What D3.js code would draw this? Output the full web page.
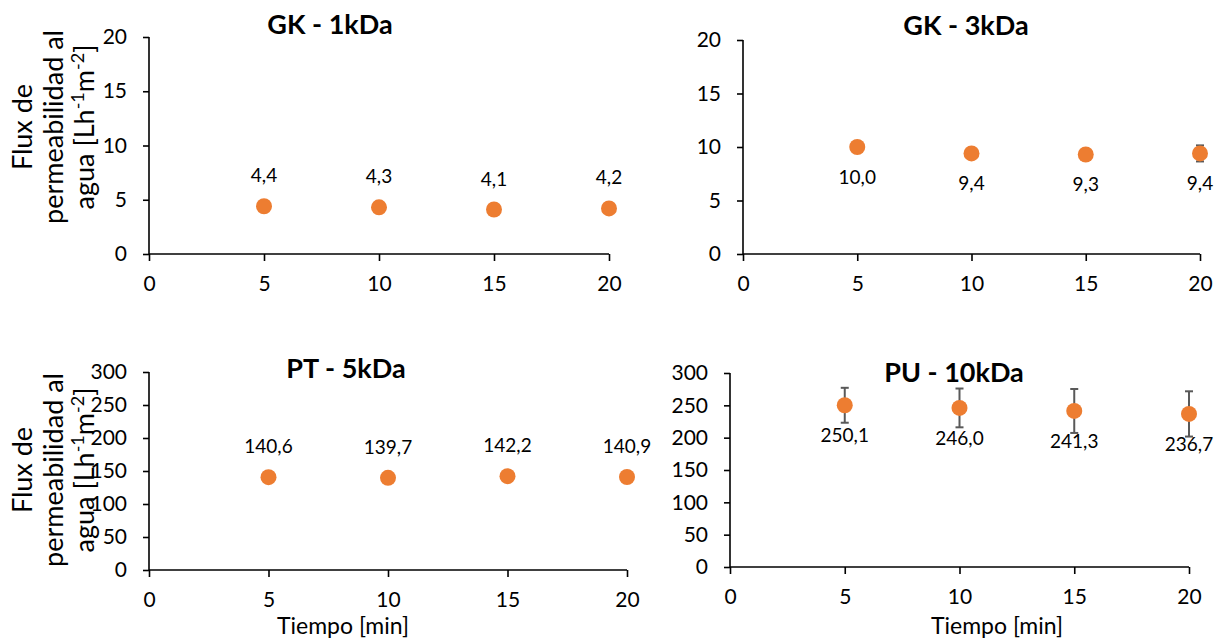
<!DOCTYPE html>
<html lang="es">
<head>
<meta charset="utf-8">
<title>Flux de permeabilidad al agua</title>
<script src="https://cdn.jsdelivr.net/npm/d3@7"></script>
<style>
  body { margin: 0; background: #fff; }
  svg text { font-family: Lato, "Open Sans", sans-serif; fill: #000; }
</style>
</head>
<body>
<script>
// data
var tiempo = [5, 10, 15, 20];
var xTicks = [0, 5, 10, 15, 20];

var gk1 = [4.4, 4.3, 4.1, 4.2];
var gk1Err = [0, 0, 0.4, 0];
var gk3 = [10.0, 9.4, 9.3, 9.4];
var gk3Err = [0, 0, 0, 0.75];
var pt5 = [140.6, 139.7, 142.2, 140.9];
var pt5Err = [0, 0, 0, 0];
var pu10 = [250.1, 246.0, 241.3, 236.7];
var pu10Err = [27, 30, 34, 35];

var yTicksSmall = [0, 5, 10, 15, 20];
var yTicksBig = [0, 50, 100, 150, 200, 250, 300];

var w = 1221, h = 639;
var orange = "#ED7D31";

var svg = d3.select("body").append("svg")
  .attr("width", w)
  .attr("height", h);

var fmt = function(v) { return d3.format(".1f")(v).replace(".", ","); };

// layout of each panel (pixels)
var panels = [
  { title: "GK - 1kDa", vals: gk1, err: gk1Err, yTicks: yTicksSmall, ymax: 20,
    x0: 149, x1: 609, y0: 254, y1: 37, titleX: 330, titleY: 34, above: true,
    yTitle: true, yTitleY: 127, xTitle: false },
  { title: "GK - 3kDa", vals: gk3, err: gk3Err, yTicks: yTicksSmall, ymax: 20,
    x0: 743, x1: 1200, y0: 254, y1: 40, titleX: 966, titleY: 35, above: false,
    yTitle: false, xTitle: false },
  { title: "PT - 5kDa", vals: pt5, err: pt5Err, yTicks: yTicksBig, ymax: 300,
    x0: 149, x1: 627, y0: 570, y1: 372, titleX: 346, titleY: 378, above: true,
    yTitle: true, yTitleY: 470, xTitle: true, xTitleX: 343 },
  { title: "PU - 10kDa", vals: pu10, err: pu10Err, yTicks: yTicksBig, ymax: 300,
    x0: 730, x1: 1189, y0: 567, y1: 373, titleX: 954, titleY: 382, above: false,
    yTitle: false, xTitle: true, xTitleX: 997 }
];

panels.forEach(function(p) {
  var g = svg.append("g");

  var xScale = d3.scaleLinear().domain([0, 20]).range([p.x0, p.x1]);
  var yScale = d3.scaleLinear().domain([0, p.ymax]).range([p.y0, p.y1]);

  //Y axis
  var yAxis = d3.axisLeft(yScale).tickValues(p.yTicks).tickSize(6).tickPadding(16)
    .tickFormat(d3.format("d"));
  var ya = g.append("g")
    .attr("transform", "translate(" + p.x0 + ",0)")
    .call(yAxis);

  //X axis
  var xAxis = d3.axisBottom(xScale).tickValues(xTicks).tickSize(7).tickPadding(15)
    .tickFormat(d3.format("d"));
  var xa = g.append("g")
    .attr("transform", "translate(0," + p.y0 + ")")
    .call(xAxis);

  [ya, xa].forEach(function(a) {
    a.attr("font-family", null);
    a.select(".domain").attr("stroke", "#000").attr("stroke-width", 1.6);
    a.selectAll(".tick line").attr("stroke", "#000").attr("stroke-width", 1.6);
    a.selectAll(".tick text").attr("font-size", "21px").attr("fill", "#000");
  });
  // no outer ticks
  ya.select(".domain").attr("d", "M0," + p.y0 + "V" + p.y1);
  xa.select(".domain").attr("d", "M" + p.x0 + ",0H" + p.x1);

  var pts = tiempo.map(function(t, i) { return { t: t, v: p.vals[i], e: p.err[i] }; });

  //error bars
  var eb = g.selectAll(".err").data(pts.filter(function(d) { return d.e > 0; }))
    .enter().append("g").attr("class", "err")
    .attr("stroke", "#595959").attr("stroke-width", 2);
  eb.append("line")
    .attr("x1", function(d) { return xScale(d.t); })
    .attr("x2", function(d) { return xScale(d.t); })
    .attr("y1", function(d) { return yScale(d.v + d.e); })
    .attr("y2", function(d) { return yScale(d.v - d.e); });
  eb.append("line")
    .attr("x1", function(d) { return xScale(d.t) - 4; })
    .attr("x2", function(d) { return xScale(d.t) + 4; })
    .attr("y1", function(d) { return yScale(d.v + d.e); })
    .attr("y2", function(d) { return yScale(d.v + d.e); });
  eb.append("line")
    .attr("x1", function(d) { return xScale(d.t) - 4; })
    .attr("x2", function(d) { return xScale(d.t) + 4; })
    .attr("y1", function(d) { return yScale(d.v - d.e); })
    .attr("y2", function(d) { return yScale(d.v - d.e); });

  //points
  g.selectAll("circle").data(pts).enter().append("circle")
    .attr("cx", function(d) { return xScale(d.t); })
    .attr("cy", function(d) { return yScale(d.v); })
    .attr("r", 8)
    .attr("fill", orange);

  //data labels
  g.selectAll(".lbl").data(pts).enter().append("text")
    .attr("class", "lbl")
    .attr("x", function(d) { return xScale(d.t); })
    .attr("y", function(d) { return yScale(d.v) + (p.above ? -24 : 37); })
    .attr("text-anchor", "middle")
    .attr("font-size", "19px")
    .text(function(d) { return fmt(d.v); });

  //title
  g.append("text")
    .attr("x", p.titleX).attr("y", p.titleY)
    .attr("text-anchor", "middle")
    .attr("font-size", "27px").attr("font-weight", "bold")
    .text(p.title);

  if (p.yTitle) {
    var yt = g.append("text")
      .attr("transform", "translate(0," + p.yTitleY + ") rotate(-90)")
      .attr("text-anchor", "middle")
      .attr("font-size", "27px");
    yt.append("tspan").attr("x", 0).attr("y", 32).text("Flux de");
    yt.append("tspan").attr("x", 0).attr("y", 63).text("permeabilidad al");
    yt.append("tspan").attr("x", 0).attr("y", 94).text("agua [Lh");
    yt.append("tspan").attr("dy", -10).attr("font-size", "18px").text("-1");
    yt.append("tspan").attr("dy", 10).text("m");
    yt.append("tspan").attr("dy", -10).attr("font-size", "18px").text("-2");
    yt.append("tspan").attr("dy", 10).text("]");
  }

  if (p.xTitle) {
    g.append("text")
      .attr("x", p.xTitleX).attr("y", 634)
      .attr("text-anchor", "middle")
      .attr("font-size", "23px")
      .text("Tiempo [min]");
  }
});
</script>
</body>
</html>
